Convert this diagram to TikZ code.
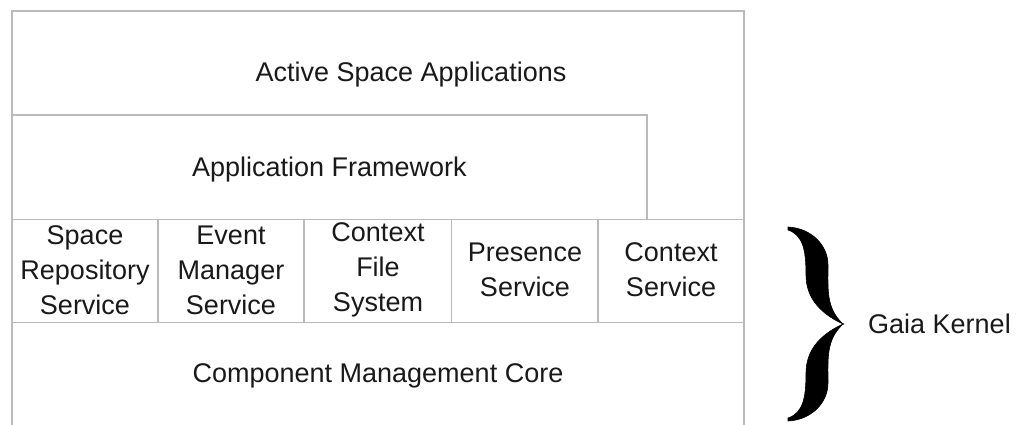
\documentclass[tikz,border=0pt]{standalone}
\usepackage{fontspec}
\setmainfont{Liberation Sans}
\begin{document}
\begin{tikzpicture}[x=1pt,y=-1pt,
  frame/.style={draw=black!27,line width=1.7pt},
  label/.style={text=black!90,align=center,inner sep=0pt,
    font=\fontsize{27}{35}\selectfont},
  bracefill/.style={fill=black,draw=black,line width=0.6pt}]
\useasboundingbox (0,0) rectangle (1016,424);

% outer frame, open at the bottom edge
\draw[frame] (12,426) -- (12,11) -- (744,11) -- (744,426);
% application framework box
\draw[frame] (12,115) -- (647,115) -- (647,219.5);
% kernel rows
\draw[frame] (12,219.5) -- (744,219.5);
\draw[frame] (12,322.5) -- (744,322.5);
\foreach \cx in {158,304,451.5,598}
  \draw[frame] (\cx,219.5) -- (\cx,322.5);

% layer labels
\node[label] (apps) at (411,75) {Active Space Applications};
\node[label] (fw)   at (329.5,170) {Application Framework};
\node[label] (srs)  at (85,270)  {Space\\Repository\\Service};
\node[label] (ems)  at (231,270) {Event\\Manager\\Service};
\node[label] (cfs)  at (378,270) {Context\\File\\System};
\node[label] (pres) at (525,270) {Presence\\Service};
\node[label] (ctx)  at (671,270) {Context\\Service};
\node[label] (cmc)  at (378,376) {Component Management Core};

% curly brace around the kernel
\fill[bracefill] (788,227) .. controls (811,228) and (828,245) .. (828,265)
  .. controls (828,290) and (826,308) .. (843,324)
  .. controls (817,312) and (806,295) .. (806,275)
  .. controls (806,250) and (803,235) .. (788,230) -- cycle;
\fill[bracefill] (788,421) .. controls (811,420) and (828,403) .. (828,383)
  .. controls (828,358) and (826,340) .. (843,324)
  .. controls (817,336) and (806,353) .. (806,373)
  .. controls (806,398) and (803,413) .. (788,418) -- cycle;
\coordinate (tip) at (843,324);
\node[label,anchor=west] (gaia) at ([xshift=25pt]tip) {Gaia Kernel};
\end{tikzpicture}
\end{document}
